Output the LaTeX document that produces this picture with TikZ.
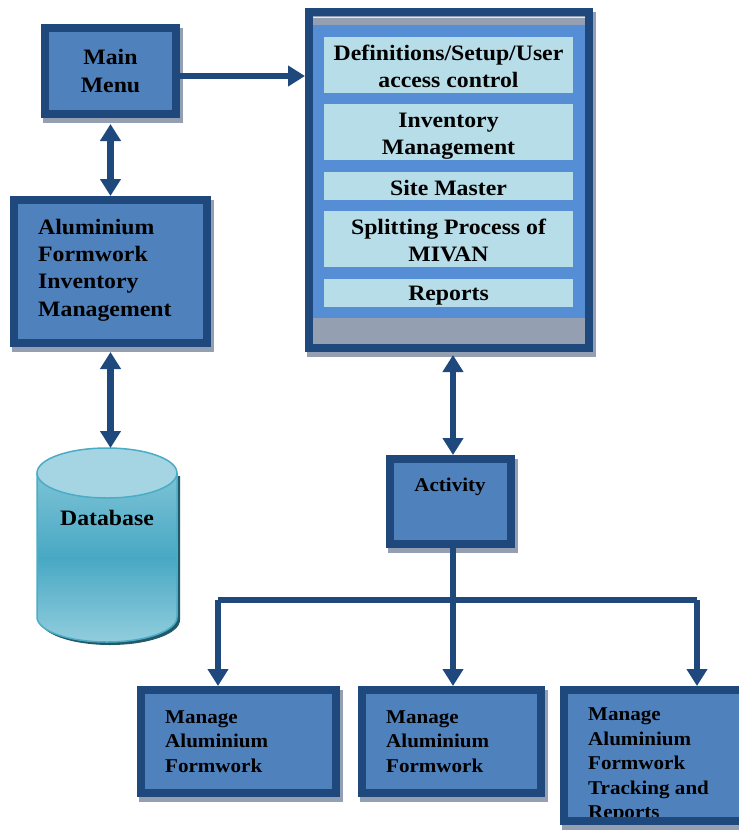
\documentclass[tikz,border=0pt]{standalone}
\usepackage{fontspec}
\setmainfont{Liberation Serif}[FakeStretch=1.08]
\usetikzlibrary{arrows.meta,backgrounds}
\definecolor{dkblue}{RGB}{31,73,125}
\definecolor{midblue}{RGB}{79,129,189}
\definecolor{brtblue}{RGB}{85,142,213}
\definecolor{ltcyan}{RGB}{183,221,232}
\definecolor{shgray}{RGB}{148,160,178}
\definecolor{dbtopc}{RGB}{165,213,226}
\definecolor{dbbody}{RGB}{125,195,214}
\definecolor{dbmid}{RGB}{72,168,196}
\definecolor{dbbot}{RGB}{145,205,221}
\definecolor{dbedge}{RGB}{75,172,198}
\definecolor{dbshadow}{RGB}{33,89,104}
\begin{document}
\begin{tikzpicture}[x=1pt,y=-1pt,
  box/.style={draw=dkblue, line width=8pt, fill=midblue, inner sep=0pt},
  itembox/.style={fill=ltcyan, inner sep=0pt, minimum width=249pt},
  itemtxt/.style={inner sep=0pt, align=center, font=\bfseries\fontsize{22}{27}\selectfont},
  bigtxt/.style={inner sep=0pt, font=\bfseries\fontsize{22}{27.3}\selectfont},
  smalltxt/.style={inner sep=0pt, align=left, anchor=west, font=\bfseries\fontsize{19.5}{24.5}\selectfont},
  arr/.style={draw=dkblue, line width=6.5pt, -{Triangle[width=20pt,length=17pt]}},
  darr/.style={draw=dkblue, line width=6.5pt, {Triangle[width=20pt,length=17pt]}-{Triangle[width=20pt,length=17pt]}},
  link/.style={draw=dkblue, line width=6.5pt}
]
\useasboundingbox (0,0) rectangle (739,833);
\clip (0,0) rectangle (739,833);

% boxes
\node[box, minimum width=131pt, minimum height=86pt] (main) at (110.5,71) {};
\node[bigtxt, align=center] (maint) at (110.5,71) {Main\\Menu};

\node[box, minimum width=193pt, minimum height=143pt] (alum) at (110.5,271.5) {};
\node[bigtxt, align=left, anchor=west] (alumt) at (38,270) {Aluminium\\Formwork\\Inventory\\Management};

\node[box, fill=shgray, minimum width=280pt, minimum height=336pt] (big) at (449,180) {};
\fill[brtblue] (313,25) rectangle (585,318);
\draw[white!75!shgray, line width=1pt] (313,17.5) -- (585,17.5);
\node[itembox, minimum height=56pt] (i1) at (448.5,65) {};
\node[itembox, minimum height=56pt] (i2) at (448.5,132) {};
\node[itembox, minimum height=28pt] (i3) at (448.5,186) {};
\node[itembox, minimum height=56pt] (i4) at (448.5,239) {};
\node[itembox, minimum height=28pt] (i5) at (448.5,293) {};
\node[itemtxt] (t1) at (448.5,66) {Definitions/Setup/User\\access control};
\node[itemtxt] (t2) at (448.5,136) {Inventory\\Management};
\node[itemtxt] (t3) at (448.5,188) {Site Master};
\node[itemtxt] (t4) at (448.5,240) {Splitting Process of\\MIVAN};
\node[itemtxt] (t5) at (448.5,296) {Reports};

\node[box, minimum width=121pt, minimum height=85pt] (act) at (450.5,501.5) {};
\node[inner sep=0pt, font=\bfseries\fontsize{19.5}{24}\selectfont] (actt) at (450,487) {Activity};

\node[box, minimum width=195pt, minimum height=103pt] (b1) at (238.5,741.5) {};
\node[smalltxt] (b1t) at (165,741.5) {Manage\\Aluminium\\Formwork};
\node[box, minimum width=179pt, minimum height=103pt] (b2) at (451.5,741.5) {};
\node[smalltxt] (b2t) at (386,741.5) {Manage\\Aluminium\\Formwork};
\node[box, fill=none, minimum width=192pt, minimum height=131pt] (b3) at (660,755.5) {};
\begin{scope}
  \clip (564,690) rectangle (756,817);
  \fill[midblue] (564,690) rectangle (756,821);
  \node[smalltxt] (b3t) at (588,765.5) {Manage\\Aluminium\\Formwork\\Tracking and\\Reports};
\end{scope}
\node[box, fill=none, minimum width=192pt, minimum height=131pt] (b3b) at (660,755.5) {};

% database
\coordinate (dbtop) at (107,448);
\fill[dbshadow] (40,476) -- (40,620) arc[start angle=180,end angle=0,x radius=70,y radius=25] -- (180,476) -- cycle;
\shade[top color=dbbody, bottom color=dbbot, middle color=dbmid]
  (37,473) -- (37,617) arc[start angle=180,end angle=0,x radius=70,y radius=25] -- (177,473) -- cycle;
\draw[dbedge, line width=1.5pt] (37,473) -- (37,617) arc[start angle=180,end angle=0,x radius=70,y radius=25] -- (177,473);
\draw[dbedge, line width=1.5pt, fill=dbtopc] (107,473) ellipse[x radius=70,y radius=25];
\node[bigtxt] (dbt) at (107,518) {Database};

% connectors
\coordinate (j) at (453,600);
\coordinate (jl) at (218,600);
\coordinate (jr) at (697,600);
\draw[arr] ([yshift=-5pt]main.east) -- ([yshift=-5pt]main.east -| big.west);
\draw[darr, shorten <=6pt] (main.south) -- (alum.north);
\draw[darr, shorten <=5pt] (alum.south) -- (alum.south |- dbtop);
\draw[darr, shorten <=3pt] (big.south -| j) -- (act.north -| j);
\draw[link] (act.south -| j) -- (j);
\draw[link] (jl) -- (jr);
\draw[arr] (jl) -- (jl |- b1.north);
\draw[arr] (j) -- (j |- b2.north);
\draw[arr] (jr) -- (jr |- b3.north);

% shadows
\begin{scope}[on background layer]
  \foreach \n in {main,alum,big,act,b1,b2,b3}
    \fill[shgray] ([shift={(2,4)}]\n.north west) rectangle ([shift={(3,5)}]\n.south east);
\end{scope}
\end{tikzpicture}
\end{document}
